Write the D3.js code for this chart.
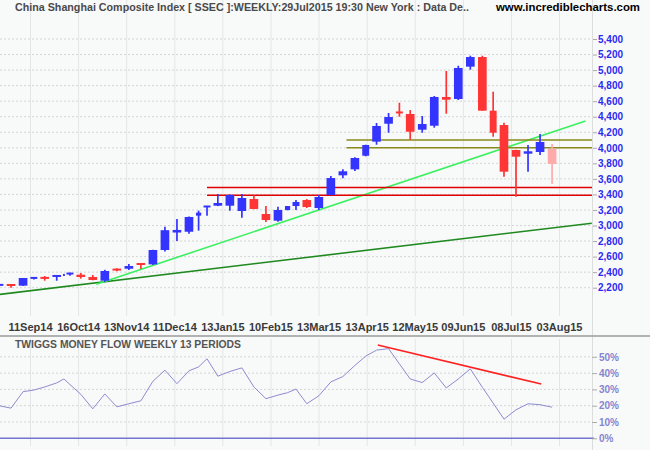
<!DOCTYPE html>
<html><head><meta charset="utf-8">
<script src="https://cdn.jsdelivr.net/npm/d3@7"></script>
<style>
html,body{margin:0;padding:0;background:#f8f9f9;}
svg{display:block;font-family:"Liberation Sans",Arial,sans-serif;}
</style>
</head><body>
<svg id="chart" width="650" height="450"></svg>
<script>
// ---- data (weekly candles, oldest first) ----
const weekDays = [5,5,5,4,5,5,1,4,5,5,5,5,5,5,5,5,5,5,3,4,5,5,5,5,5,5,3,4,5,5,5,5,5,4,5,5,4,5,5,5,5,5,5,5,4,5,5,5,5,5];
const openP  = [2228,2235,2226,2318,2326,2329,2355,2366,2367,2338,2290,2433,2444,2505,2500,2685,2910,2920,3127,3220,3255,3255,3187,3341,3148,3062,3200,3251,3328,3225,3393,3646,3723,3898,4079,4310,4455,4435,4233,4284,4654,4628,5044,5168,4478,4293,3972,3924,3946,3985];
const highP  = [2240,2236,2326,2338,2350,2358,2368,2391,2389,2364,2430,2450,2505,2508,2688,2985,3085,3115,3192,3248,3406,3400,3406,3390,3251,3242,3251,3328,3340,3393,3637,3724,3880,4040,4319,4448,4580,4486,4409,4667,4988,5056,5185,5185,4722,4323,3975,4036,4178,4049];
const lowP   = [2220,2200,2222,2305,2290,2290,2350,2355,2316,2295,2275,2411,2428,2441,2492,2665,2800,2895,2934,3127,3250,3191,3101,3210,3045,3049,3195,3200,3225,3200,3390,3608,3700,3890,4040,4194,4400,4104,4194,4259,4439,4615,5005,4478,4143,3628,3371,3693,3907,3534];
const closeP = [2236,2213,2325,2326,2318,2351,2365,2382,2338,2299,2415,2425,2479,2483,2685,2940,2943,3110,3166,3245,3290,3393,3354,3213,3071,3200,3251,3303,3238,3367,3611,3698,3869,4036,4281,4396,4440,4207,4306,4654,4619,5027,5168,4478,4194,3693,3886,3955,4075,3792];
const moneyFlow = [20,18.5,28.6,29.6,31.5,34,36.4,33,27,18.1,27.2,19.3,21.2,23,35,41.8,33.5,41.4,43.8,48.8,38.1,41,43.2,31.5,24.3,26.5,28,30.2,21.2,26.1,34.6,37.9,44.7,50.4,54.1,55,45.7,36.4,34.2,40.1,30.9,36.4,42.6,31.3,21.6,11.7,17.5,21.2,20.6,19.1];
const lastWeekIncomplete = true;

const dateLabels = ["11Sep14","16Oct14","13Nov14","11Dec14","13Jan15","10Feb15","13Mar15","13Apr15","12May15","09Jun15","08Jul15","03Aug15"];
const dateTickDays = [15.6,35.6,55.6,75.6,95.6,115.6,135.6,155.6,175.6,195.6,215.6,235.6];
const priceTicks = [2200,2400,2600,2800,3000,3200,3400,3600,3800,4000,4200,4400,4600,4800,5000,5200,5400];
const flowTicks = [0,10,20,30,40,50];

const supportLevels = [3390, 3490];
const supportFromDay = 89;
const resistanceLevels = [4000, 4100];
const resistanceFromDay = 147;
const longTrend = [[0, 2104], [249, 3030]];
const shortTrend = [[43, 2244], [246.4, 4345]];
const flowTrend = [[160, 57.2], [228, 33.3]];

const titleText = "China Shanghai Composite Index [ SSEC ]:WEEKLY:29Jul2015 19:30 New York : Data De..";
const siteText = "www.incrediblecharts.com";
const flowTitle = "TWIGGS MONEY FLOW WEEKLY 13 PERIODS";

// ---- layout ----
const W = 650, H = 450;
const plotR = 592, mainTop = 0, mainBottom = 312;
const flowTop = 337, flowBottom = 446;

const svg = d3.select("#chart");
svg.append("rect").attr("width", W).attr("height", H).attr("fill", "#f8f9f9");

const totalDays = d3.sum(weekDays);
const starts = weekDays.map((d, i) => d3.sum(weekDays.slice(0, i)));
const candles = weekDays.map((d, i) => ({
  start: starts[i], days: d, mid: starts[i] + d / 2,
  o: openP[i], h: highP[i], l: lowP[i], c: closeP[i], mf: moneyFlow[i],
  last: i === weekDays.length - 1
}));

const x = d3.scaleLinear().domain([0, 249.1]).range([-7, plotR]);
const y = d3.scaleLinear().domain([2200, 5400]).range([287.7, 39]);
const yf = d3.scaleLinear().domain([0, 50]).range([438.3, 356.8]);

const defs = svg.append("defs");
defs.append("clipPath").attr("id", "mainClip").append("rect")
  .attr("x", 0).attr("y", mainTop).attr("width", plotR).attr("height", mainBottom - mainTop);
defs.append("clipPath").attr("id", "flowClip").append("rect")
  .attr("x", 0).attr("y", flowTop).attr("width", plotR).attr("height", flowBottom - flowTop);

// vertical grid (both panels)
const vg = svg.append("g");
dateTickDays.forEach(d => {
  vg.append("line").attr("x1", x(d)).attr("x2", x(d)).attr("y1", mainTop).attr("y2", 316)
    .attr("stroke", "#e4e6e6").attr("stroke-width", 1);
  vg.append("line").attr("x1", x(d)).attr("x2", x(d)).attr("y1", flowTop + 2).attr("y2", flowBottom)
    .attr("stroke", "#e4e6e6").attr("stroke-width", 1);
});

// main horizontal grid + right axis
const yAxis = d3.axisRight(y).tickValues(priceTicks).tickSize(5).tickPadding(1)
  .tickFormat(d3.format(","));
const gy = svg.append("g").attr("transform", `translate(${plotR},0)`).call(yAxis);
gy.select(".domain").remove();
gy.selectAll(".tick line").attr("stroke", "#aaa");
gy.selectAll(".tick text").attr("fill", "#2b2bf0").attr("font-size", 10).attr("font-weight", "bold")
  .attr("font-family", "'Liberation Sans', Arial, sans-serif");
svg.append("g").selectAll("line").data(priceTicks).join("line")
  .attr("x1", 0).attr("x2", plotR).attr("y1", d => y(d)).attr("y2", d => y(d))
  .attr("stroke", "#d4d6d6").attr("stroke-dasharray", "2,2");

// right border
svg.append("line").attr("x1", plotR + 0.5).attr("x2", plotR + 0.5).attr("y1", 0).attr("y2", H)
  .attr("stroke", "#dcdede");

// title
svg.append("text").attr("x", 15).attr("y", 11).attr("font-size", 11).attr("font-weight", "bold")
  .attr("fill", "#4a4a4a").attr("textLength", 454).attr("lengthAdjust", "spacingAndGlyphs").text(titleText);
svg.append("text").attr("x", 496).attr("y", 11).attr("font-size", 11).attr("font-weight", "bold")
  .attr("fill", "#000").attr("textLength", 144).attr("lengthAdjust", "spacingAndGlyphs").text(siteText);

// trend / level lines
const main = svg.append("g").attr("clip-path", "url(#mainClip)");
main.append("line").attr("x1", x(longTrend[0][0])).attr("y1", y(longTrend[0][1]))
  .attr("x2", x(longTrend[1][0])).attr("y2", y(longTrend[1][1]))
  .attr("stroke", "#1f8a1f").attr("stroke-width", 1.6);
main.append("line").attr("x1", x(shortTrend[0][0])).attr("y1", y(shortTrend[0][1]))
  .attr("x2", x(shortTrend[1][0])).attr("y2", y(shortTrend[1][1]))
  .attr("stroke", "#3cf060").attr("stroke-width", 1.6);
supportLevels.forEach(v => main.append("line").attr("x1", x(supportFromDay)).attr("x2", plotR)
  .attr("y1", y(v)).attr("y2", y(v)).attr("stroke", "#e00000").attr("stroke-width", 1.6));
resistanceLevels.forEach(v => main.append("line").attr("x1", x(resistanceFromDay)).attr("x2", plotR)
  .attr("y1", y(v)).attr("y2", y(v)).attr("stroke", "#8a8a1a").attr("stroke-width", 1.6));

// candles
const colorOf = d => d.last && lastWeekIncomplete ? "#ffaaaa" : (d.c >= d.o ? "#3434ff" : "#ff3434");
const cg = main.append("g");
cg.selectAll("line.wick").data(candles).join("line").attr("class", "wick")
  .attr("x1", d => x(d.mid)).attr("x2", d => x(d.mid))
  .attr("y1", d => y(d.h)).attr("y2", d => y(d.l))
  .attr("stroke", colorOf).attr("stroke-width", 1.7);
cg.selectAll("rect.body").data(candles).join("rect").attr("class", "body")
  .attr("x", d => x(d.mid) - (x(d.days) - x(0)) * 0.36)
  .attr("width", d => (x(d.days) - x(0)) * 0.72)
  .attr("y", d => Math.min(y(d.o), y(d.c)) - (Math.abs(y(d.o) - y(d.c)) < 2 ? 1 : 0))
  .attr("height", d => Math.max(2, Math.abs(y(d.o) - y(d.c))))
  .attr("fill", colorOf);

// x labels
svg.append("g").selectAll("text").data(dateLabels).join("text")
  .attr("x", (d, i) => x(dateTickDays[i])).attr("y", 331).attr("text-anchor", "middle")
  .attr("font-size", 11).attr("font-weight", "bold").attr("fill", "#3a3a3a").text(d => d);

// lower panel
svg.append("line").attr("x1", 0).attr("x2", W).attr("y1", 336).attr("y2", 336)
  .attr("stroke", "#9a9a9a").attr("stroke-width", 1.5);
svg.append("text").attr("x", 15).attr("y", 348).attr("font-size", 11).attr("font-weight", "bold")
  .attr("fill", "#555").attr("textLength", 226).attr("lengthAdjust", "spacingAndGlyphs").text(flowTitle);

svg.append("g").selectAll("line").data(flowTicks.filter(t => t > 0)).join("line")
  .attr("x1", 0).attr("x2", plotR).attr("y1", d => yf(d)).attr("y2", d => yf(d))
  .attr("stroke", "#d4d6d6").attr("stroke-dasharray", "2,2");
svg.append("line").attr("x1", 0).attr("x2", plotR + 2).attr("y1", yf(0)).attr("y2", yf(0))
  .attr("stroke", "#7474d0").attr("stroke-width", 1.5);

const fAxis = d3.axisRight(yf).tickValues(flowTicks).tickSize(5).tickPadding(2).tickFormat(d => d + "%");
const gf = svg.append("g").attr("transform", `translate(${plotR},0)`).call(fAxis);
gf.select(".domain").remove();
gf.selectAll(".tick line").attr("stroke", "#aaa");
gf.selectAll(".tick text").attr("fill", "#8585d0").attr("font-size", 10).attr("font-weight", "bold")
  .attr("font-family", "'Liberation Sans', Arial, sans-serif");

const flow = svg.append("g").attr("clip-path", "url(#flowClip)");
flow.append("path").datum(candles)
  .attr("d", d3.line().x(d => x(d.mid)).y(d => yf(d.mf)))
  .attr("fill", "none").attr("stroke", "#8c8cd0").attr("stroke-width", 1);
flow.append("line").attr("x1", x(flowTrend[0][0])).attr("y1", yf(flowTrend[0][1]))
  .attr("x2", x(flowTrend[1][0])).attr("y2", yf(flowTrend[1][1]))
  .attr("stroke", "#ff2020").attr("stroke-width", 1.6);
</script>
</body></html>
